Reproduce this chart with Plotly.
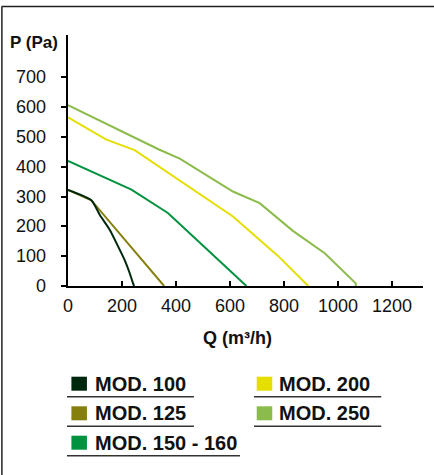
import plotly.graph_objects as go

# ---- data ----
names = ["MOD. 100", "MOD. 125", "MOD. 150 - 160", "MOD. 200", "MOD. 250"]
colors = ["#00280D", "#857F0E", "#00923F", "#E6DE00", "#8BBB4A"]

q100 = [0, 87, 118, 155, 186, 210, 229, 241, 245]
p100 = [322, 287, 238, 188, 132, 87, 42, 9, 0]
q125 = [0, 87, 356]
p125 = [322, 287, 0]
q150 = [0, 235, 370, 661]
p150 = [420, 323, 245, 0]
q200 = [0, 142, 247, 611, 778, 890]
p200 = [566, 491, 456, 233, 101, 0]
q250 = [0, 337, 414, 611, 710, 833, 951, 1043, 1066, 1066]
p250 = [607, 458, 427, 317, 278, 185, 110, 28, 9, 0]

x_ticks = [0, 200, 400, 600, 800, 1000, 1200]
y_ticks = [0, 100, 200, 300, 400, 500, 600, 700]

series = [(q100, p100), (q125, p125), (q150, p150), (q200, p200), (q250, p250)]
shapes_line = ["spline", "linear", "linear", "linear", "linear"]

W, H = 434, 475
L, R, T, B = 68.3, 422.7, 35.0, 286.0


def px(x):
    return (x - L) / (R - L)


def py(y):
    return (B - y) / (B - T)


fig = go.Figure()
for i in reversed(range(len(series))):
    q, p = series[i]
    fig.add_trace(go.Scatter(x=q, y=p, mode="lines", name=names[i],
                             line=dict(color=colors[i], width=2, shape=shapes_line[i],
                                       smoothing=0.6),
                             showlegend=False, hoverinfo="skip"))

tickfont = dict(family="Liberation Sans", size=18, color="#111")
fig.update_xaxes(range=[0, 1315], tickvals=x_ticks, ticks="inside", ticklen=5,
                 tickwidth=1.5, tickcolor="black", showline=True, linewidth=2,
                 linecolor="black", showgrid=False, zeroline=False,
                 tickfont=tickfont, ticklabelstandoff=2)
fig.update_yaxes(range=[0, 842], tickvals=y_ticks, ticks="outside", ticklen=5,
                 tickwidth=1.5, tickcolor="black", showline=True, linewidth=2,
                 linecolor="black", showgrid=False, zeroline=False,
                 showticklabels=False)

shapes = []
annotations = []

# y tick labels placed further from the axis (as in the reference)
for v in y_ticks:
    annotations.append(dict(text=str(v), xref="paper", yref="y", x=px(48.5), y=v,
                            showarrow=False, xanchor="right", yanchor="middle",
                            font=tickfont))

# frame lines (top and left)
shapes.append(dict(type="line", xref="paper", yref="paper", x0=px(2), x1=px(434),
                   y0=py(6.5), y1=py(6.5), line=dict(color="#222", width=1.5)))
shapes.append(dict(type="line", xref="paper", yref="paper", x0=px(2.3), x1=px(2.3),
                   y0=py(6.5), y1=py(475), line=dict(color="#222", width=1.5)))

# axis titles
annotations.append(dict(text="<b>P (Pa)</b>", xref="paper", yref="paper", x=px(34), y=py(43),
                        showarrow=False, xanchor="center", yanchor="middle",
                        font=dict(family="Liberation Sans", size=17, color="#111")))
annotations.append(dict(text="<b>Q (m³/h)</b>", xref="paper", yref="paper", x=px(237.5), y=py(338),
                        showarrow=False, xanchor="center", yanchor="middle",
                        font=dict(family="Liberation Sans", size=18, color="#111")))

# legend (manual)
sq_x = [71.7, 71.7, 71.7, 256.7, 256.7]
row_y = [383.7, 413.3, 442.7, 383.7, 413.3]
txt_x = [94.3, 94.3, 94.3, 277.7, 277.7]
ul = [(67.3, 194), (67.3, 194), (67.3, 240), (254, 381), (254, 381)]
for i in range(len(names)):
    cy = row_y[i]
    shapes.append(dict(type="rect", xref="paper", yref="paper",
                       x0=px(sq_x[i]), x1=px(sq_x[i] + 15.5), y0=py(cy - 7), y1=py(cy + 7),
                       fillcolor=colors[i], line=dict(width=0)))
    annotations.append(dict(text="<b>" + names[i] + "</b>", xref="paper", yref="paper",
                            x=px(txt_x[i]), y=py(cy), showarrow=False,
                            xanchor="left", yanchor="middle", xshift=-1,
                            font=dict(family="Liberation Sans", size=20, color="#111")))
    shapes.append(dict(type="line", xref="paper", yref="paper",
                       x0=px(ul[i][0]), x1=px(ul[i][1]), y0=py(cy + 13), y1=py(cy + 13),
                       line=dict(color="#333", width=1.5)))

fig.update_layout(width=W, height=H, margin=dict(l=L, r=W - R, t=T, b=H - B),
                  paper_bgcolor="white", plot_bgcolor="white",
                  shapes=shapes, annotations=annotations, showlegend=False)

fig.write_html("out.html", config={"displayModeBar": False},
               post_script="document.body.style.margin='0';document.body.style.padding='0';")
